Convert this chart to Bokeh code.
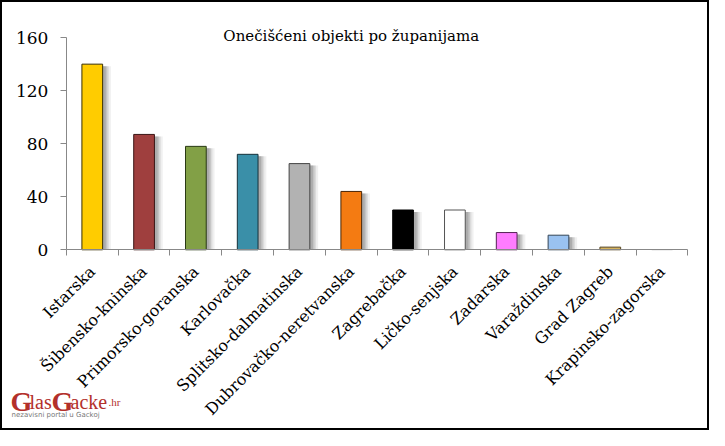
from math import pi

from bokeh.embed import file_html
from bokeh.models import (ColumnDataSource, FixedTicker, Label, LinearAxis,
                          Range1d)
from bokeh.plotting import figure
from bokeh.resources import INLINE

counties = ['Istarska', 'Šibensko-kninska', 'Primorsko-goranska', 'Karlovačka',
            'Splitsko-dalmatinska', 'Dubrovačko-neretvanska', 'Zagrebačka',
            'Ličko-senjska', 'Zadarska', 'Varaždinska', 'Grad Zagreb',
            'Krapinsko-zagorska']
counts = [140, 87, 78, 72, 65, 44, 30, 30, 13, 11, 2, 0]
y_ticks = [0, 40, 80, 120, 160]

COLORS = ['#FFCC00', '#9F3F3E', '#82A046', '#3A8FA8', '#B2B2B2', '#F47B12',
          '#000000', '#FFFFFF', '#FF7CFF', '#9AC2F0', '#D5B25C', '#EEEEEE']
LINES = ['#3a3000', '#3a1515', '#2a3a15', '#15303a', '#444444', '#4a2505',
         '#000000', '#555555', '#552255', '#334455', '#554422', '#dddddd']

SERIF = 'DejaVu Serif'

n = len(counties)
centers = [i + 0.5 for i in range(n)]

source = ColumnDataSource(dict(
    x=centers,
    top=counts,
    shadow=[max(c - 1.5, 0) for c in counts],
    fill=COLORS,
    line=LINES,
))

# the frame fills the whole canvas, axes sit at fixed locations inside it
p = figure(x_range=Range1d(-1.233, 12.454), y_range=Range1d(-137.8, 186.5),
           width=709, height=430,
           output_backend="svg", toolbar_location=None, tools="",
           x_axis_location=None, y_axis_location=None,
           min_border_left=0, min_border_right=0,
           min_border_top=0, min_border_bottom=0)
p.styles = {"border": "2px solid black", "box-sizing": "border-box"}
p.outline_line_color = None
p.xgrid.grid_line_color = None
p.ygrid.grid_line_color = None

# soft shadow on the right of each bar
for off, alpha in [(0.16, 0.10), (0.12, 0.16), (0.09, 0.22), (0.06, 0.28)]:
    p.vbar(x=[c + off for c in centers], top=source.data['shadow'], width=0.4,
           fill_color='#707070', fill_alpha=alpha, line_color=None)

p.vbar(x='x', top='top', width=0.4, source=source,
       fill_color='fill', line_color='line', line_width=1)

# y axis
yax = LinearAxis(fixed_location=0, bounds=(0, 160),
                 ticker=FixedTicker(ticks=y_ticks),
                 minor_tick_line_color=None,
                 major_tick_in=0, major_tick_out=6,
                 axis_line_color='#888888',
                 major_tick_line_color='#888888',
                 major_label_text_font=SERIF,
                 major_label_text_font_size='17px',
                 major_label_text_color='black',
                 major_label_standoff=12)
p.add_layout(yax, "left")

# x axis: ticks between categories, labels under each bar
edges = list(range(n + 1))
edge_axis = LinearAxis(fixed_location=0, bounds=(0, n),
                       ticker=FixedTicker(ticks=edges),
                       major_label_overrides={e: '' for e in edges},
                       major_label_standoff=0,
                       minor_tick_line_color=None,
                       major_tick_in=0, major_tick_out=6,
                       axis_line_color='#888888',
                       major_tick_line_color='#888888')
p.add_layout(edge_axis, "below")

name_axis = LinearAxis(fixed_location=0,
                       ticker=FixedTicker(ticks=centers),
                       major_label_overrides={c: name for c, name in zip(centers, counties)},
                       axis_line_color=None,
                       major_tick_line_color=None,
                       minor_tick_line_color=None,
                       major_label_orientation=pi / 4,
                       major_label_standoff=13,
                       major_label_text_font=SERIF,
                       major_label_text_font_size='16px',
                       major_label_text_color='black')
p.add_layout(name_axis, "below")

p.add_layout(Label(x=5.5, y=161, text='Onečišćeni objekti po županijama',
                   text_font=SERIF, text_font_size='15px', text_color='black',
                   text_align='center', text_baseline='middle'))

# logo in the corner
logo_red = '#B3302B'
for txt, x, size, bold in [('G', 8, '28px', True), ('las', 27, '20px', False),
                           ('G', 49, '28px', True), ('acke', 68, '20px', False),
                           ('.hr', 106, '11px', False)]:
    p.add_layout(Label(x=x, y=31, x_units='screen', y_units='screen',
                       text=txt, text_font='Liberation Serif',
                       text_font_size=size, text_color=logo_red,
                       text_baseline='alphabetic',
                       text_font_style='bold' if bold else 'normal'))
p.add_layout(Label(x=9, y=18, x_units='screen', y_units='screen',
                   text='nezavisni portal u Gackoj', text_font='DejaVu Sans',
                   text_font_size='7px', text_color='#777777',
                   text_baseline='alphabetic'))

open("out.html", "w").write(file_html(p, INLINE))
